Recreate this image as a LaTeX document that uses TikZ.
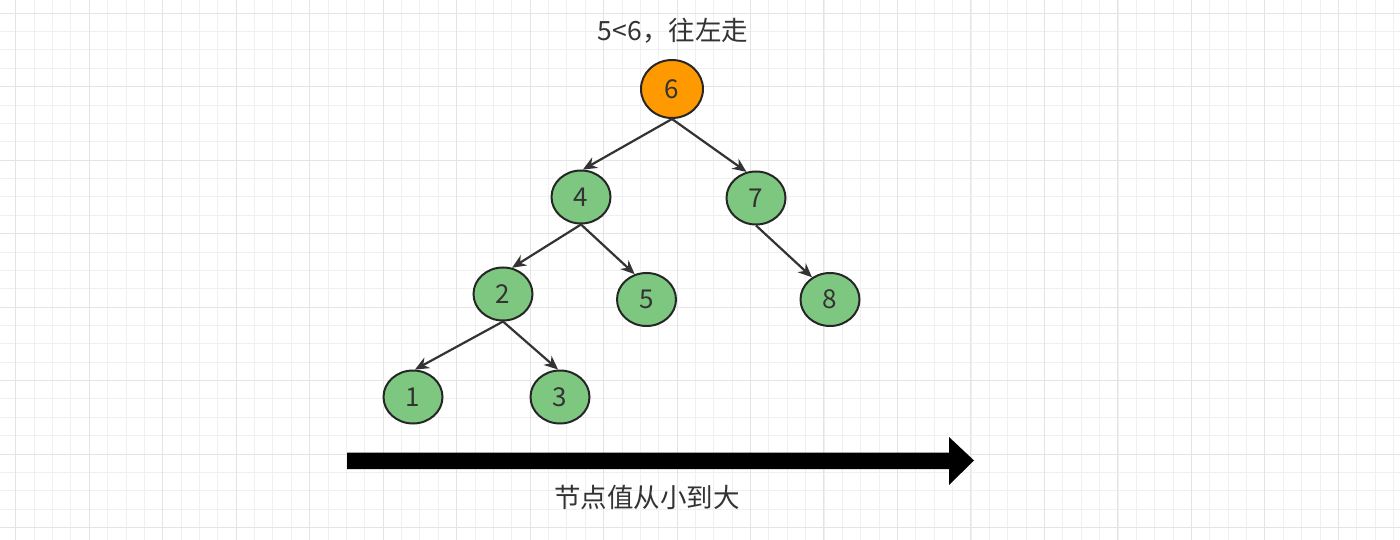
\documentclass[tikz,border=0pt]{standalone}
\usepackage{fontspec}
\setmainfont{Noto Sans CJK SC}
\usetikzlibrary{shapes.geometric,arrows.meta}
\definecolor{gminor}{HTML}{F0F0F0}
\definecolor{gmajor}{HTML}{E4E4E4}
\definecolor{nodegreen}{RGB}{126,199,128}
\definecolor{nodeorange}{RGB}{255,153,0}
\definecolor{strokec}{HTML}{262626}
\definecolor{edgec}{HTML}{333333}
\tikzset{
  treenode/.style={ellipse, draw=strokec, line width=2pt, fill=nodegreen,
    minimum width=59pt, minimum height=53pt, inner sep=0pt,
    font=\fontsize{26}{30}\selectfont, text=black!80},
  rootnode/.style={treenode, fill=nodeorange, minimum width=62pt, minimum height=58pt},
  treeedge/.style={draw=edgec, line width=2.2pt, -{Stealth[length=14pt,width=12pt]}},
  lbl/.style={font=\fontsize{26.5}{30}\selectfont, text=black!80, inner sep=0pt}
}
\begin{document}
\begin{tikzpicture}[x=1pt,y=-1pt]
\useasboundingbox (0,0) rectangle (1400,540);
\fill[white] (0,0) rectangle (1400,540);
% grid
\foreach \i in {0,...,77} {
  \draw[gminor, line width=1pt] ({-2.57+18.37*\i},0) -- ({-2.57+18.37*\i},540);
}
\foreach \i in {0,...,30} {
  \draw[gminor, line width=1pt] (0,{-5.17+18.37*\i}) -- (1400,{-5.17+18.37*\i});
}
\foreach \i in {0,...,19} {
  \draw[gmajor, line width=1pt] ({15.8+73.47*\i},0) -- ({15.8+73.47*\i},540);
}
\foreach \i in {0,...,7} {
  \draw[gmajor, line width=1pt] (0,{13.2+73.47*\i}) -- (1400,{13.2+73.47*\i});
}
% title
\node[lbl] (title) at (673,31) {5<6，往左走};
% nodes
\node[rootnode] (n6) at (672,89) {6};
\node[treenode] (n4) at (581,197) {4};
\node[treenode] (n7) at (756,198) {7};
\node[treenode] (n2) at (503,294) {2};
\node[treenode] (n5) at (646.5,299.5) {5};
\node[treenode] (n8) at (830,299.5) {8};
\node[treenode] (n1) at (413,397) {1};
\node[treenode] (n3) at (560,397) {3};
% edges
\draw[treeedge] (n6.south) -- (n4.86);
\draw[treeedge] (n6.south) -- (n7.110);
\draw[treeedge] (n4.south) -- (n2.71);
\draw[treeedge] (n4.south) -- (n5.115);
\draw[treeedge] (n7.south) -- (n8.129);
\draw[treeedge] (n2.south) -- (n1.86);
\draw[treeedge] (n2.south) -- (n3.94);
% big arrow
\coordinate (as) at (347,460.5);
\coordinate (at) at (974,460.5);
\fill[black] (347,452.5) -- (949,452.5) -- (949,437) -- (at) -- (949,485) -- (949,469) -- (347,469) -- cycle;
\node[lbl] (axis) at (647,497) {节点值从小到大};
\end{tikzpicture}
\end{document}
